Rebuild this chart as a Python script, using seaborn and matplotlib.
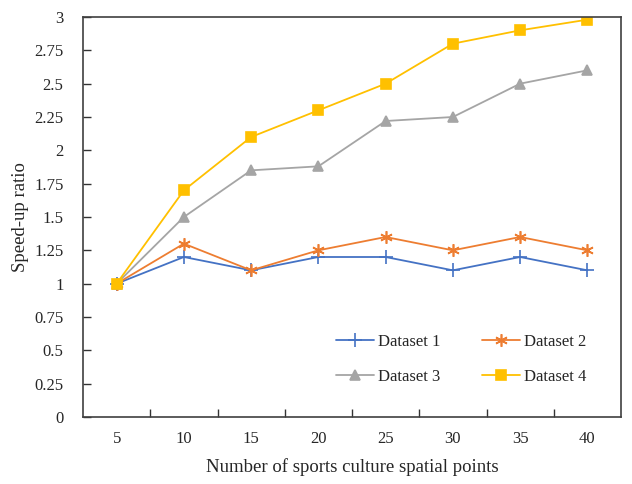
import matplotlib
matplotlib.use("Agg")
import matplotlib.pyplot as plt
import seaborn as sns
import pandas as pd
import numpy as np

categories = ["5", "10", "15", "20", "25", "30", "35", "40"]
dataset1 = [1.0, 1.2, 1.1, 1.2, 1.2, 1.1, 1.2, 1.1]
dataset2 = [1.0, 1.3, 1.1, 1.25, 1.35, 1.25, 1.35, 1.25]
dataset3 = [1.0, 1.5, 1.85, 1.88, 2.22, 2.25, 2.5, 2.6]
dataset4 = [1.0, 1.7, 2.1, 2.3, 2.5, 2.8, 2.9, 2.98]
series_names = ["Dataset 1", "Dataset 2", "Dataset 3", "Dataset 4"]
yticks = [0, 0.25, 0.5, 0.75, 1, 1.25, 1.5, 1.75, 2, 2.25, 2.5, 2.75, 3]
ytick_labels = ["0", "0.25", "0.5", "0.75", "1", "1.25", "1.5", "1.75", "2", "2.25", "2.5", "2.75", "3"]

rows = []
for name, vals in zip(series_names, [dataset1, dataset2, dataset3, dataset4]):
    for i, v in enumerate(vals):
        rows.append({"idx": i, "value": v, "series": name})
df = pd.DataFrame(rows)

sns.set_style("white")
plt.rcParams["font.family"] = ["Liberation Serif", "DejaVu Serif"]

fig = plt.figure(figsize=(6.32, 4.84), dpi=100)
ax = fig.add_axes([83/632, 67/484, 538/632, 400/484])

palette = {"Dataset 1": "#4472C4", "Dataset 2": "#ED7D31", "Dataset 3": "#A5A5A5", "Dataset 4": "#FFC000"}
markers = {"Dataset 1": "+", "Dataset 2": (6, 2, 0), "Dataset 3": "^", "Dataset 4": "s"}
msizes = {"Dataset 1": 10, "Dataset 2": 9, "Dataset 3": 7, "Dataset 4": 7}

for name in series_names:
    sub = df[df["series"] == name]
    sns.lineplot(data=sub, x="idx", y="value", ax=ax, color=palette[name],
                 marker=markers[name], markersize=msizes[name], markeredgewidth=1.2,
                 markeredgecolor=palette[name], markerfacecolor=palette[name],
                 linewidth=1.3, label=name)

ax.set_xlim(-0.5, 7.5)
ax.set_ylim(0, 3)
ax.set_xticks(range(len(categories)))
ax.set_xticklabels(categories)
ax.set_xticks(np.arange(0.5, 7.5, 1.0), minor=True)
ax.tick_params(axis="x", which="major", length=0, pad=10, labelsize=12)
ax.tick_params(axis="x", which="minor", direction="in", length=6, width=1, color="#333333", bottom=True)
ax.set_yticks(yticks)
ax.set_yticklabels(ytick_labels)
ax.tick_params(axis="y", which="major", direction="in", length=6, width=1, color="#333333",
               labelsize=12, left=True, pad=14)

for s in ax.spines.values():
    s.set_color("#404040")
    s.set_linewidth(1.2)

ax.set_xlabel("Number of sports culture spatial points", fontsize=13.5, labelpad=8)
ax.set_ylabel("Speed-up ratio", fontsize=13.5, labelpad=4)

handles, labels = ax.get_legend_handles_labels()
order = [0, 2, 1, 3]
leg = ax.legend([handles[i] for i in order], [labels[i] for i in order],
                loc="center", bbox_to_anchor=(0.703, 0.144), ncol=2, frameon=False,
                fontsize=12, handlelength=2.25, columnspacing=2.5, labelspacing=1.1,
                handletextpad=0.25)

fig.savefig("out.png", dpi=100)
